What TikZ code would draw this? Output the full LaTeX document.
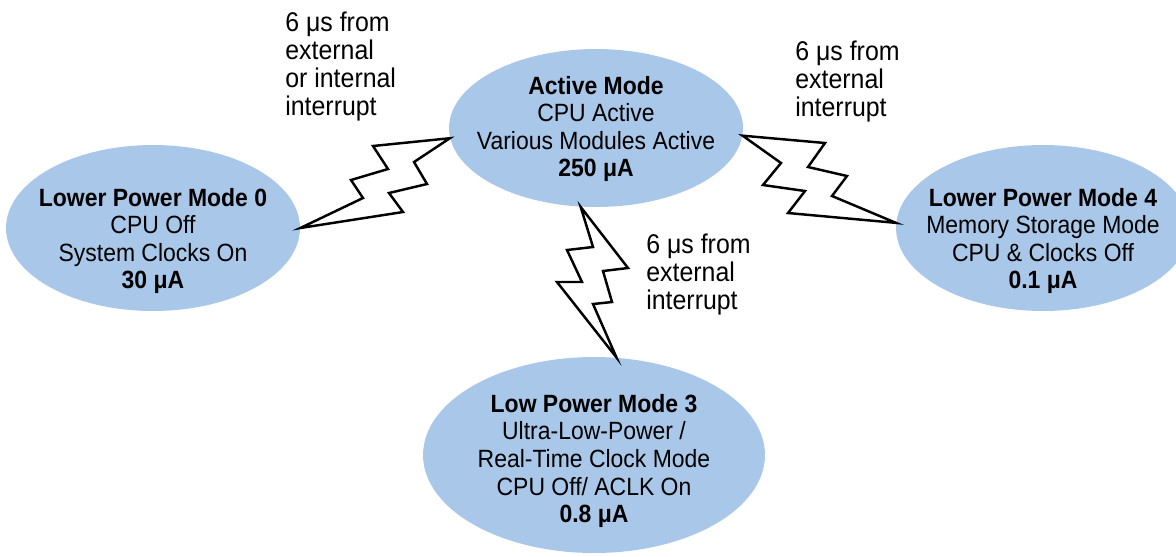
\documentclass[tikz,border=0pt]{standalone}
\usepackage{fontspec}
\setmainfont[FakeStretch=0.92]{Liberation Sans}
\usepackage{pgf,tikz}
\usetikzlibrary{shapes}                % ellipses
\definecolor{modeblue}{RGB}{169,199,233}

\begin{document}
\begin{tikzpicture}[x=0.02cm,y=-0.02cm,
  mode/.style={ellipse, fill=modeblue, inner sep=0pt},
  modetext/.style={align=center, inner sep=0pt, font=\fontsize{14.2}{15.7}\selectfont},
  wake/.style={align=left, anchor=north west, inner sep=0pt, font=\fontsize{15.4}{15.9}\selectfont},
  bolt/.style={draw=black, line width=1.4pt, line join=miter, fill=white}]
\useasboundingbox (0,0) rectangle (1176,556);
\node[mode, minimum width=5.88cm, minimum height=3.16cm] (act) at (596,128) {};
\node[mode, minimum width=5.88cm, minimum height=3.32cm] (lpm0) at (153,228) {};
\node[mode, minimum width=5.88cm, minimum height=3.32cm] (lpm4) at (1043,228) {};
\node[mode, minimum width=6.84cm, minimum height=3.92cm] (lpm3) at (594,455) {};
\node[modetext] (acttxt) at (596,129) {\textbf{Active Mode}\\CPU Active\\Various Modules Active\\\textbf{250 μA}};
\node[modetext] (lpm0txt) at (153,241) {\textbf{Lower Power Mode 0}\\CPU Off\\System Clocks On\\\textbf{30 μA}};
\node[modetext] (lpm4txt) at (1043,241) {\textbf{Lower Power Mode 4}\\Memory Storage Mode\\CPU \& Clocks Off\\\textbf{0.1 μA}};
\node[modetext] (lpm3txt) at (594,461) {\textbf{Low Power Mode 3}\\Ultra-Low-Power /\\Real-Time Clock Mode\\CPU Off/ ACLK On\\\textbf{0.8 μA}};
\draw[bolt] (lpm0.east) -- (363,198) -- (351,180) -- (388,169) -- (373,146) -- (act.184)
  -- (414,162) -- (427,184) -- (389,193) -- (403,212) -- cycle;
\draw[bolt] (act.-3) -- (825,143) -- (808,167) -- (847,176) -- (832,196) -- (lpm4.178)
  -- (788,213) -- (805,191) -- (763,185) -- (781,163) -- cycle;
\draw[bolt] (act.-101) -- (628,268) -- (603,271) -- (612,302) -- (593,304) -- (lpm3.77)
  -- (557,282) -- (582,282) -- (567,250) -- (593,247) -- cycle;
\node[wake] (w0) at (285,12) {6 μs from\\external\\or internal\\interrupt};
\node[wake] (w4) at (795,41) {6 μs from\\external\\interrupt};
\node[wake] (w3) at (646,234) {6 μs from\\external\\interrupt};
\end{tikzpicture}
\end{document}
